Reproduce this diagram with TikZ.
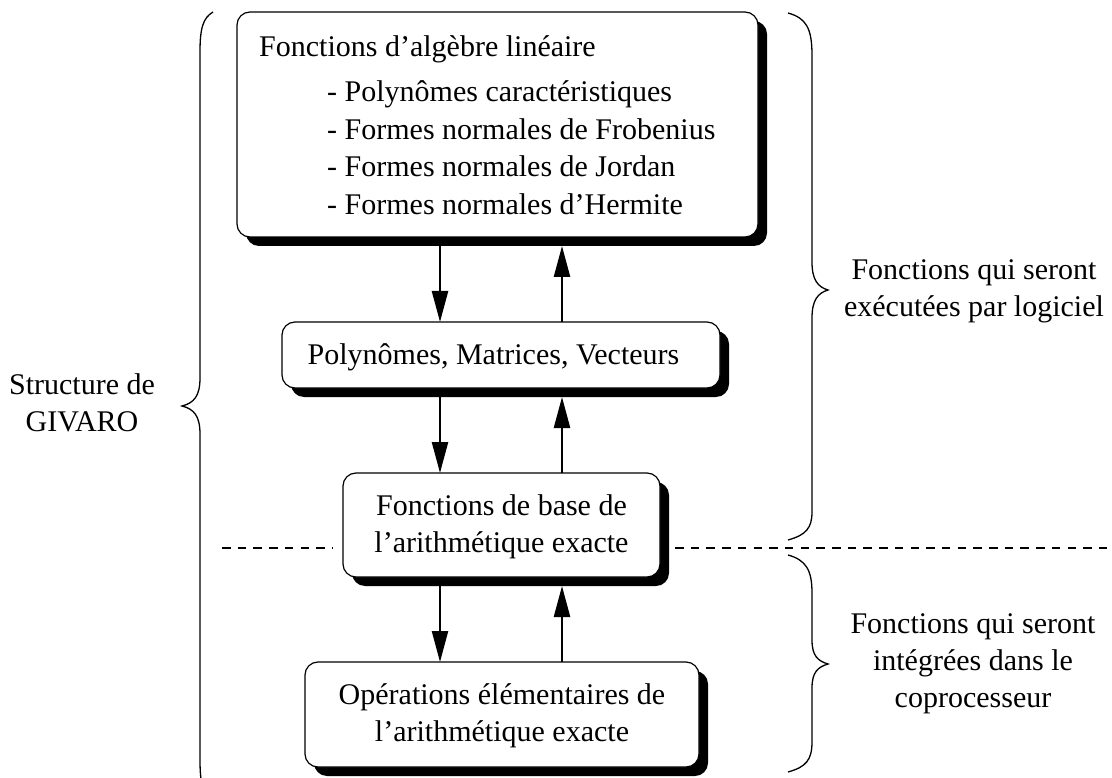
\documentclass[tikz,border=0pt]{standalone}
\usepackage{fontspec}
\setmainfont{Liberation Serif}
\usetikzlibrary{arrows.meta,shadows,calc}
\begin{document}
\begin{tikzpicture}[x=1pt,y=-1pt,
  every node/.style={font=\fontsize{30}{37}\selectfont},
  box/.style={draw, line width=1.2pt, rounded corners=13pt, fill=white,
    inner sep=0pt, outer sep=0pt,
    drop shadow={shadow xshift=9pt, shadow yshift=-9pt, fill=black, opacity=1}},
  lbl/.style={inner sep=0pt, align=center},
  textline/.style={anchor=base west, inner sep=0pt},
  flow/.style={line width=2.4pt, -{Triangle[length=31pt,width=16pt]}},
  brace/.style={line width=1.3pt},
  sep/.style={line width=1.2pt, dash pattern=on 8.5pt off 7.2pt}
]
\useasboundingbox (0,0) rectangle (1112,778);

% boxes
\node[box, minimum width=521pt, minimum height=225pt] (alg) at (497.5,124.5) {};
\node[box, minimum width=438pt, minimum height=66pt] (poly) at (501,355) {};
\node[box, minimum width=317pt, minimum height=104pt] (base) at (501.5,525) {};
\node[box, minimum width=394pt, minimum height=105pt] (ops) at (502,714.5) {};

% box texts
\node[textline] (alg0) at (259,57) {Fonctions d’algèbre linéaire};
\node[textline] (alg1) at (327,102) {- Polynômes caractéristiques};
\node[textline] (alg2) at (327,140) {- Formes normales de Frobenius};
\node[textline] (alg3) at (327,177) {- Formes normales de Jordan};
\node[textline] (alg4) at (327,215) {- Formes normales d’Hermite};
\node[lbl] (polyt) at (493.5,357) {Polynômes, Matrices, Vecteurs};
\node[lbl] (baset) at (501.5,527) {Fonctions de base de\\l’arithmétique exacte};
\node[lbl] (opst) at (502,716) {Opérations élémentaires de\\l’arithmétique exacte};

% vertical connectors
\coordinate (dn) at (440,0);
\coordinate (up) at (562,0);
\draw[flow] ($(alg.south -| dn)+(0,9)$) -- (poly.north -| dn);
\draw[flow] (poly.north -| up) -- ($(alg.south -| up)+(0,9)$);
\draw[flow] ($(poly.south -| dn)+(0,9)$) -- (base.north -| dn);
\draw[flow] (base.north -| up) -- ($(poly.south -| up)+(0,9)$);
\draw[flow] ($(base.south -| dn)+(0,9)$) -- (ops.north -| dn);
\draw[flow] (ops.north -| up) -- ($(base.south -| up)+(0,9)$);

% software / hardware boundary
\coordinate (dl) at (222,548);
\coordinate (dr) at (1112,548);
\draw[sep] (dl) -- ($(dl -| base.west)+(-11,0)$);
\draw[sep] ($(dr -| base.east)+(15,0)$) -- (dr);

% braces
\draw[brace] (213,12) .. controls (203,18) and (200,28) .. (200,52)
  -- (200,378) .. controls (200,396) and (194,403) .. (182,406)
  .. controls (194,409) and (200,416) .. (200,434)
  -- (200,760) .. controls (200,784) and (203,794) .. (213,800);
\draw[brace] (788,13) .. controls (806,18) and (812,28) .. (812,55)
  -- (812,262) .. controls (812,280) and (818,287) .. (828,290)
  .. controls (818,293) and (812,300) .. (812,318)
  -- (812,512) .. controls (812,528) and (806,535) .. (788,540);
\draw[brace] (788,555) .. controls (806,560) and (812,570) .. (812,593)
  -- (812,640) .. controls (812,656) and (818,661) .. (828,664)
  .. controls (818,667) and (812,672) .. (812,688)
  -- (812,742) .. controls (812,760) and (806,767) .. (788,772);

% brace labels
\node[lbl] (givaro) at (82,403) {Structure de\\GIVARO};
\node[lbl] (soft) at (974,291) {Fonctions qui seront\\exécutées par logiciel};
\node[lbl] (hard) at (973,664) {Fonctions qui seront\\intégrées dans le\\coprocesseur};
\end{tikzpicture}
\end{document}
